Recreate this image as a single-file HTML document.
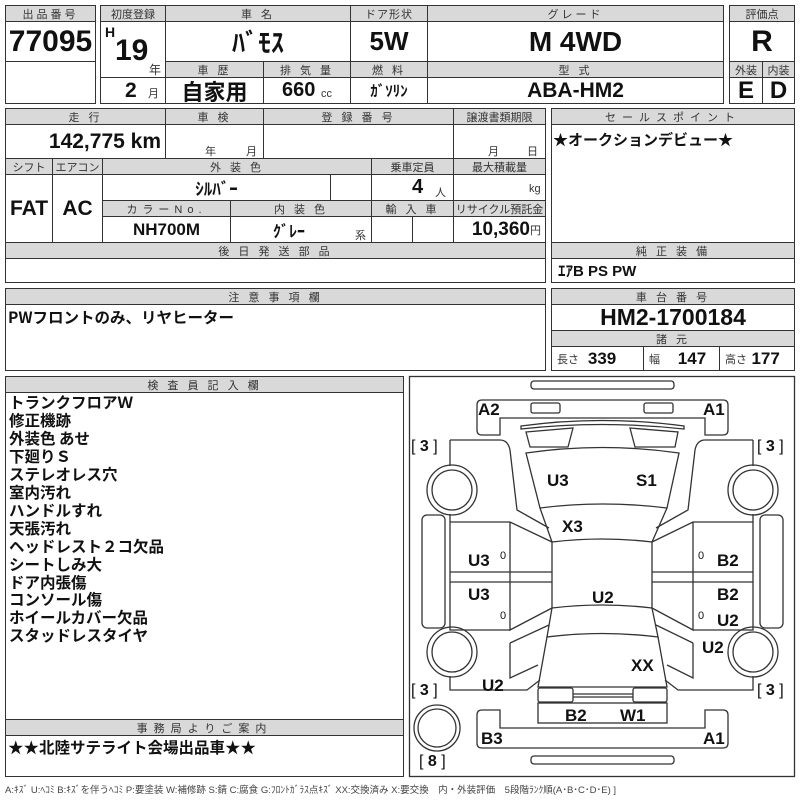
<!DOCTYPE html>
<html><head><meta charset="utf-8">
<style>
body{margin:0;width:800px;height:800px;background:#fff;position:relative;overflow:hidden;font-family:"Liberation Sans","Noto Sans CJK JP",sans-serif;color:#111}
.c{position:absolute;border:1px solid #333;box-sizing:border-box;display:flex;align-items:center;justify-content:center;white-space:nowrap;overflow:hidden}
.h{background:#d9d9d9;font-size:11px;letter-spacing:3px;color:#333;height:17px}
.b{font-family:"Liberation Sans Narrow","Liberation Sans","Noto Sans CJK JP",sans-serif;font-weight:bold}
.t{position:absolute;white-space:nowrap}
.s{font-size:11px;color:#333;font-weight:normal}
.lst{position:absolute;left:9px;top:394px;font-size:15.5px;line-height:17.95px;font-weight:bold;font-family:"Noto Sans CJK JP",sans-serif}
.dl{position:absolute;font:bold 17px "Liberation Sans",sans-serif;white-space:nowrap}
</style></head><body>
<div class="c h" style="left:5px;top:5px;width:91px">出品番号</div>
<div class="c b" style="left:5px;top:21px;width:91px;height:41px;font-size:30px">77095</div>
<div class="c" style="left:5px;top:61px;width:91px;height:43px"></div>
<div class="c h" style="left:100px;top:5px;width:66px;letter-spacing:0">初度登録</div>
<div class="c h" style="left:165px;top:5px;width:186px">車 名</div>
<div class="c h" style="left:350px;top:5px;width:78px;letter-spacing:1px">ドア形状</div>
<div class="c h" style="left:427px;top:5px;width:297px">グレード</div>
<div class="c" style="left:100px;top:21px;width:66px;height:57px"></div>
<div class="t b" style="left:105px;top:24px;font-size:14px">H</div>
<div class="t b" style="left:115px;top:34px;font-size:30px">19</div>
<div class="t s" style="left:149px;top:61px;font-size:12px">年</div>
<div class="c b" style="left:165px;top:21px;width:186px;height:41px;font-size:26px;font-family:'Noto Sans CJK JP',sans-serif">ﾊﾞﾓｽ</div>
<div class="c b" style="left:350px;top:21px;width:78px;height:41px;font-size:26px">5W</div>
<div class="c b" style="left:427px;top:21px;width:297px;height:41px;font-size:28px">M 4WD</div>
<div class="c h" style="left:165px;top:61px;width:99px">車 歴</div>
<div class="c h" style="left:263px;top:61px;width:88px">排 気 量</div>
<div class="c h" style="left:350px;top:61px;width:78px">燃 料</div>
<div class="c h" style="left:427px;top:61px;width:297px">型 式</div>
<div class="c" style="left:100px;top:77px;width:66px;height:27px"></div>
<div class="t b" style="left:125px;top:79px;font-size:21px">2</div>
<div class="t s" style="left:148px;top:85px">月</div>
<div class="c b" style="left:165px;top:77px;width:99px;height:27px;font-size:22px;font-family:'Noto Sans CJK JP',sans-serif">自家用</div>
<div class="c b" style="left:263px;top:77px;width:88px;height:27px;font-size:20px">660&nbsp;<span class="s" style="margin-top:6px">cc</span></div>
<div class="c b" style="left:350px;top:77px;width:78px;height:27px;font-size:15px;font-family:'Noto Sans CJK JP',sans-serif">ｶﾞｿﾘﾝ</div>
<div class="c b" style="left:427px;top:77px;width:297px;height:27px;font-size:21px">ABA-HM2</div>
<div class="c h" style="left:729px;top:5px;width:66px;letter-spacing:0">評価点</div>
<div class="c b" style="left:729px;top:21px;width:66px;height:41px;font-size:30px">R</div>
<div class="c h" style="left:729px;top:61px;width:34px;letter-spacing:0">外装</div>
<div class="c h" style="left:762px;top:61px;width:33px;letter-spacing:0">内装</div>
<div class="c b" style="left:729px;top:77px;width:34px;height:27px;font-size:24px">E</div>
<div class="c b" style="left:762px;top:77px;width:33px;height:27px;font-size:24px">D</div>
<div class="c" style="left:5px;top:108px;width:541px;height:175px"></div>
<div class="c h" style="left:5px;top:108px;width:161px">走 行</div>
<div class="c h" style="left:165px;top:108px;width:99px">車 検</div>
<div class="c h" style="left:263px;top:108px;width:191px">登 録 番 号</div>
<div class="c h" style="left:453px;top:108px;width:93px;letter-spacing:0">譲渡書類期限</div>
<div class="c" style="left:5px;top:124px;width:161px;height:35px;justify-content:flex-end;padding-right:4px"><span class="b" style="font-size:21px">142,775 km</span></div>
<div class="c" style="left:165px;top:124px;width:99px;height:35px"></div>
<div class="t s" style="left:205px;top:143px">年</div><div class="t s" style="left:246px;top:143px">月</div>
<div class="c" style="left:263px;top:124px;width:191px;height:35px"></div>
<div class="c" style="left:453px;top:124px;width:93px;height:35px"></div>
<div class="t s" style="left:488px;top:143px">月</div><div class="t s" style="left:527px;top:143px">日</div>
<div class="c h" style="left:5px;top:158px;width:48px;letter-spacing:0">シフト</div>
<div class="c h" style="left:52px;top:158px;width:51px;letter-spacing:0">エアコン</div>
<div class="c h" style="left:102px;top:158px;width:270px">外 装 色</div>
<div class="c h" style="left:371px;top:158px;width:83px;letter-spacing:0">乗車定員</div>
<div class="c h" style="left:453px;top:158px;width:93px;letter-spacing:0">最大積載量</div>
<div class="c b" style="left:5px;top:174px;width:48px;height:69px;font-size:21px">FAT</div>
<div class="c b" style="left:52px;top:174px;width:51px;height:69px;font-size:21px">AC</div>
<div class="c b" style="left:102px;top:174px;width:229px;height:27px;font-size:17px;font-family:'Noto Sans CJK JP',sans-serif">ｼﾙﾊﾞｰ</div>
<div class="c" style="left:330px;top:174px;width:42px;height:27px"></div>
<div class="c" style="left:371px;top:174px;width:83px;height:27px"></div>
<div class="t b" style="left:412px;top:176px;font-size:20px">4</div><div class="t s" style="left:435px;top:184px">人</div>
<div class="c" style="left:453px;top:174px;width:93px;height:27px"></div>
<div class="t s" style="left:529px;top:183px">kg</div>
<div class="c h" style="left:102px;top:200px;width:129px;letter-spacing:5px">カラーNo.</div>
<div class="c h" style="left:230px;top:200px;width:142px">内 装 色</div>
<div class="c h" style="left:371px;top:200px;width:83px">輸 入 車</div>
<div class="c h" style="left:453px;top:200px;width:93px;letter-spacing:0">リサイクル預託金</div>
<div class="c b" style="left:102px;top:216px;width:129px;height:27px;font-size:17px">NH700M</div>
<div class="c" style="left:230px;top:216px;width:142px;height:27px"></div>
<div class="t b" style="left:273px;top:218px;font-size:16px;font-family:'Noto Sans CJK JP',sans-serif">ｸﾞﾚｰ</div>
<div class="t s" style="left:355px;top:227px">系</div>
<div class="c" style="left:371px;top:216px;width:42px;height:27px"></div>
<div class="c" style="left:412px;top:216px;width:42px;height:27px"></div>
<div class="c" style="left:453px;top:216px;width:93px;height:27px;justify-content:flex-end;padding-right:4px"><span class="b" style="font-size:19px">10,360</span><span class="s">円</span></div>
<div class="c h" style="left:5px;top:242px;width:541px">後 日 発 送 部 品</div>
<div class="c" style="left:551px;top:108px;width:244px;height:135px"></div>
<div class="c h" style="left:551px;top:108px;width:244px;letter-spacing:6px">セールスポイント</div>
<div class="t" style="left:553px;top:129px;font-size:15px;font-weight:bold;font-family:'Noto Sans CJK JP',sans-serif">★オークションデビュー★</div>
<div class="c h" style="left:551px;top:242px;width:244px">純 正 装 備</div>
<div class="c b" style="left:551px;top:258px;width:244px;height:25px;justify-content:flex-start;padding-left:6px;font-size:15px">ｴｱB PS PW</div>
<div class="c" style="left:5px;top:288px;width:541px;height:83px"></div>
<div class="c h" style="left:5px;top:288px;width:541px">注 意 事 項 欄</div>
<div class="t" style="left:8px;top:306px;font-size:15.5px;font-weight:bold;font-family:'Noto Sans CJK JP',sans-serif">PWフロントのみ、リヤヒーター</div>
<div class="c h" style="left:551px;top:288px;width:244px">車 台 番 号</div>
<div class="c b" style="left:551px;top:304px;width:244px;height:27px;font-size:23px">HM2-1700184</div>
<div class="c h" style="left:551px;top:330px;width:244px">諸 元</div>
<div class="c" style="left:551px;top:346px;width:93px;height:25px;justify-content:flex-start;padding-left:5px"><span class="s">長さ</span>&nbsp;&nbsp;<span class="b" style="font-size:17px">339</span></div>
<div class="c" style="left:643px;top:346px;width:77px;height:25px;justify-content:flex-start;padding-left:5px"><span class="s">幅</span>&nbsp;&nbsp;&nbsp;&nbsp;<span class="b" style="font-size:17px">147</span></div>
<div class="c" style="left:719px;top:346px;width:76px;height:25px;justify-content:flex-start;padding-left:5px"><span class="s">高さ</span>&nbsp;<span class="b" style="font-size:17px">177</span></div>
<div class="c" style="left:5px;top:376px;width:399px;height:344px"></div>
<div class="c h" style="left:5px;top:376px;width:399px">検 査 員 記 入 欄</div>
<div class="lst">トランクフロアＷ<br>修正機跡<br>外装色 あせ<br>下廻りＳ<br>ステレオレス穴<br>室内汚れ<br>ハンドルすれ<br>天張汚れ<br>ヘッドレスト２コ欠品<br>シートしみ大<br>ドア内張傷<br>コンソール傷<br>ホイールカバー欠品<br>スタッドレスタイヤ</div>
<div class="c" style="left:5px;top:719px;width:399px;height:58px"></div>
<div class="c h" style="left:5px;top:719px;width:399px;letter-spacing:6px">事務局よりご案内</div>
<div class="t" style="left:8px;top:736px;font-size:15.5px;font-weight:bold;font-family:'Noto Sans CJK JP',sans-serif">★★北陸サテライト会場出品車★★</div>
<div class="t" style="left:5px;top:782px;font-size:9.5px;color:#444">A:ｷｽﾞ U:ﾍｺﾐ B:ｷｽﾞを伴うﾍｺﾐ P:要塗装 W:補修跡 S:錆 C:腐食 G:ﾌﾛﾝﾄｶﾞﾗｽ点ｷｽﾞ XX:交換済み X:要交換　内・外装評価　5段階ﾗﾝｸ順(A･B･C･D･E) ]</div>
<svg style="position:absolute;left:0;top:0" width="800" height="800" fill="none" stroke="#333" stroke-width="1.3">
<rect x="409.5" y="376.5" width="385" height="400"/>
<rect x="531" y="381" width="143" height="8" rx="3"/>
<rect x="531" y="756" width="143" height="8" rx="3"/>
<path d="M500,435 L482,435 Q477,435 477,430 L477,405 Q477,400 482,400 L723,400 Q728,400 728,405 L728,430 Q728,435 723,435 L705,435 L705,418 L500,418 Z"/>
<rect x="531" y="403" width="29" height="10" rx="2"/><rect x="644" y="403" width="29" height="10" rx="2"/>
<path d="M500,710 L482,710 Q477,710 477,715 L477,743 Q477,748 482,748 L723,748 Q728,748 728,743 L728,715 Q728,710 723,710 L705,710 L705,728 L500,728 Z"/>
<path d="M521,426 Q602,415 684,426 L684,429 Q602,420 521,429 Z"/>
<path d="M526,432 L573,428 L568,447 L530,447 Z"/><path d="M630,428 L678,432 L675,447 L635,447 Z"/>
<path d="M526,453 Q602,442 679,453 L667,508 Q602,500 540,508 Z"/>
<path d="M540,508 L552,542 Q602,536 652,542 L667,508"/>
<path d="M552,542 L552,608 Q602,602 652,608 L652,542"/>
<path d="M552,608 L547,637 Q602,630 658,637 L652,608"/>
<path d="M547,637 L538,687 L667,687 L658,637"/>
<rect x="538" y="688" width="35" height="14" rx="2"/><rect x="633" y="688" width="34" height="14" rx="2"/>
<line x1="573" y1="694" x2="633" y2="694"/><line x1="573" y1="697" x2="633" y2="697"/>
<rect x="538" y="703" width="129" height="20"/>
<path d="M450,440 Q450,440 455,440 L500,440 Q508,440 510,450 L517,510 L549,528"/>
<line x1="450" y1="440" x2="450" y2="466"/><line x1="450" y1="514" x2="450" y2="522"/>
<path d="M450,522 L510,522 L552,542 M510,522 L510,630 L552,608 M450,522 L450,630 L510,630 M450,572 L552,572 M450,582 L552,582"/>
<path d="M510,643 L549,625 M510,643 L510,678 L538,665 M450,676 L450,690 L527,690 L540,680"/>
<rect x="422" y="515" width="23" height="113" rx="5"/>
<path d="M753,440 L705,440 Q697,440 695,450 L688,510 L656,528"/>
<line x1="753" y1="440" x2="753" y2="466"/><line x1="753" y1="514" x2="753" y2="522"/>
<path d="M753,522 L693,522 L652,542 M693,522 L693,630 L652,608 M753,522 L753,630 L693,630 M753,572 L652,572 M753,582 L652,582"/>
<path d="M693,643 L656,625 M693,643 L693,678 L667,665 M753,676 L753,690 L678,690 L665,680"/>
<rect x="760" y="515" width="23" height="113" rx="5"/>
<circle cx="452" cy="490" r="25"/><circle cx="452" cy="490" r="20"/>
<circle cx="753" cy="490" r="25"/><circle cx="753" cy="490" r="20"/>
<circle cx="452" cy="652" r="25"/><circle cx="452" cy="652" r="20"/>
<circle cx="753" cy="652" r="25"/><circle cx="753" cy="652" r="20"/>
<circle cx="437" cy="728" r="23"/><circle cx="437" cy="728" r="19"/>
</svg>
<div class="dl" style="left:478px;top:400px">A2</div><div class="dl" style="left:703px;top:400px">A1</div>
<div class="t" style="left:411px;top:438px;font-size:16px">[ <b>3</b> ]</div>
<div class="t" style="left:757px;top:438px;font-size:16px">[ <b>3</b> ]</div>
<div class="dl" style="left:547px;top:471px">U3</div><div class="dl" style="left:636px;top:471px">S1</div>
<div class="dl" style="left:562px;top:517px">X3</div>
<div class="dl" style="left:468px;top:551px">U3</div><div class="dl" style="left:717px;top:551px">B2</div>
<div class="dl" style="left:468px;top:585px">U3</div><div class="dl" style="left:717px;top:585px">B2</div>
<div class="dl" style="left:592px;top:588px">U2</div>
<div class="dl" style="left:717px;top:611px">U2</div>
<div class="dl" style="left:702px;top:638px">U2</div>
<div class="dl" style="left:631px;top:656px">XX</div>
<div class="dl" style="left:482px;top:676px">U2</div>
<div class="t" style="left:411px;top:682px;font-size:16px">[ <b>3</b> ]</div>
<div class="t" style="left:757px;top:682px;font-size:16px">[ <b>3</b> ]</div>
<div class="dl" style="left:565px;top:706px">B2</div><div class="dl" style="left:620px;top:706px">W1</div>
<div class="dl" style="left:481px;top:729px">B3</div><div class="dl" style="left:703px;top:729px">A1</div>
<div class="t" style="left:419px;top:753px;font-size:16px">[ <b>8</b> ]</div>
<div class="t" style="left:500px;top:550px;font-size:11px">0</div><div class="t" style="left:500px;top:610px;font-size:11px">0</div>
<div class="t" style="left:698px;top:550px;font-size:11px">0</div><div class="t" style="left:698px;top:610px;font-size:11px">0</div>
</body></html>
